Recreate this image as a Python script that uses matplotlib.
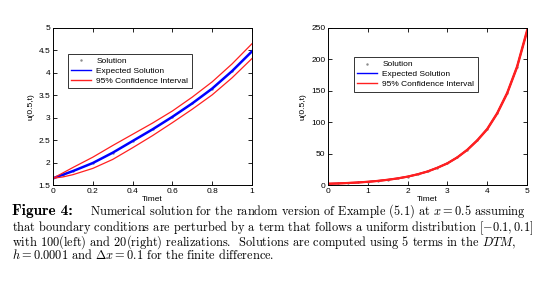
import numpy as np
import matplotlib.pyplot as plt

# left panel: 100 realizations, t in [0, 1]
t_left = [0.0, 0.05, 0.1, 0.2, 0.3, 0.4, 0.5, 0.6, 0.7, 0.8, 0.9, 1.0]
mean_left = [1.65, 1.73, 1.81, 1.99, 2.22, 2.48, 2.74, 3.02, 3.32, 3.65, 4.04, 4.48]
upper_left = [1.65, 1.77, 1.89, 2.12, 2.38, 2.63, 2.88, 3.15, 3.46, 3.80, 4.20, 4.65]
lower_left = [1.65, 1.68, 1.73, 1.87, 2.07, 2.33, 2.60, 2.89, 3.19, 3.51, 3.89, 4.32]

# right panel: 20 realizations, t in [0, 5]
t_right = [0.0, 0.25, 0.5, 0.75, 1.0, 1.25, 1.5, 1.75, 2.0, 2.25, 2.5,
           2.75, 3.0, 3.25, 3.5, 3.75, 4.0, 4.25, 4.5, 4.75, 5.0]
mean_right = [2.0, 2.5, 3.2, 4.0, 5.1, 6.5, 8.3, 10.5, 13.3, 17.0, 21.5,
              27.5, 34.5, 44.0, 56.0, 71.0, 89.0, 114.0, 146.0, 188.0, 245.0]
upper_right = [2.1, 2.6, 3.3, 4.1, 5.2, 6.6, 8.4, 10.6, 13.4, 17.1, 21.6,
               27.6, 34.7, 44.2, 56.3, 71.4, 89.5, 114.6, 146.8, 189.0, 246.5]
lower_right = [1.9, 2.4, 3.1, 3.9, 5.0, 6.4, 8.2, 10.4, 13.2, 16.9, 21.4,
               27.4, 34.3, 43.8, 55.7, 70.6, 88.5, 113.4, 145.2, 187.0, 243.5]

left_xticks = [0, 0.2, 0.4, 0.6, 0.8, 1]
left_yticks = [1.5, 2, 2.5, 3, 3.5, 4, 4.5, 5]
right_xticks = [0, 1, 2, 3, 4, 5]
right_yticks = [0, 50, 100, 150, 200, 250]

caption_head = "Figure 4:"
caption_lines = [
    r"Numerical solution for the random version of Example (5.1) at $x = 0.5$ assuming",
    r"that boundary conditions are perturbed by a term that follows a uniform distribution $[-0.1, 0.1]$",
    r"with 100(left) and 20(right) realizations.  Solutions are computed using 5 terms in the $DTM$,",
    r"$h = 0.0001$ and $\Delta x = 0.1$ for the finite difference.",
]

plt.rcParams["font.family"] = ["Liberation Sans", "DejaVu Sans"]
plt.rcParams["mathtext.fontset"] = "cm"

fig = plt.figure(figsize=(5.52, 3.07), dpi=100)
W, H = 552, 307


def panel(rect, t, mean, upper, lower, xlim, ylim, xticks, yticks, lw_mean, lw_ci, leg_anchor):
    ax = fig.add_axes(rect)
    ax.plot(t, mean, linestyle="none", marker=".", markersize=1.5, color="0.55", label="Solution")
    ax.plot(t, mean, color="#0000ff", lw=lw_mean, label="Expected Solution")
    ax.plot(t, upper, color="#ff2020", lw=lw_ci, label="95% Confidence Interval")
    ax.plot(t, lower, color="#ff2020", lw=lw_ci)
    ax.set_xlim(*xlim)
    ax.set_ylim(*ylim)
    ax.set_xticks(xticks)
    ax.set_yticks(yticks)
    ax.set_xticklabels([f"{v:g}" for v in xticks])
    ax.set_yticklabels([f"{v:g}" for v in yticks])
    ax.tick_params(direction="in", top=True, right=True, length=3, width=0.6,
                   labelsize=6, pad=2)
    for s in ax.spines.values():
        s.set_linewidth(0.7)
    ax.set_xlabel("Timet", fontsize=6, labelpad=1)
    ax.set_ylabel("u(0.5,t)", fontsize=6, labelpad=3)
    leg = ax.legend(loc="upper left", bbox_to_anchor=leg_anchor, fontsize=6,
                    frameon=True, fancybox=False, edgecolor="black",
                    handlelength=2.4, handletextpad=0.6, borderpad=0.4,
                    labelspacing=0.25, markerscale=1)
    leg.get_frame().set_linewidth(0.7)
    for h in leg.legend_handles[1:]:
        h.set_linewidth(1.0)
    return ax


ax1 = panel([53 / W, 1 - 185 / H, 199 / W, 157 / H], t_left, mean_left, upper_left, lower_left,
            (0, 1), (1.5, 5), left_xticks, left_yticks, 1.8, 0.9, (0.055, 0.86))
ax2 = panel([328 / W, 1 - 185 / H, 199 / W, 157 / H], t_right, mean_right, upper_right, lower_right,
            (0, 5), (0, 250), right_xticks, right_yticks, 1.0, 1.5, (0.11, 0.84))

# caption: bold head, first line, then the rest as one block
cap_fs = 8.9
fig.text(12 / W, 1 - 215 / H, caption_head, fontsize=11, family="cmb10",
         va="baseline", ha="left")
fig.text(90 / W, 1 - 215 / H, caption_lines[0], fontsize=cap_fs, family="cmr10",
         va="baseline", ha="left")
fig.text(12 / W, 1 - 219 / H, "\n".join(caption_lines[1:]), fontsize=cap_fs,
         family="cmr10", va="top", ha="left", linespacing=0.72)

fig.savefig("out.png", dpi=100)
